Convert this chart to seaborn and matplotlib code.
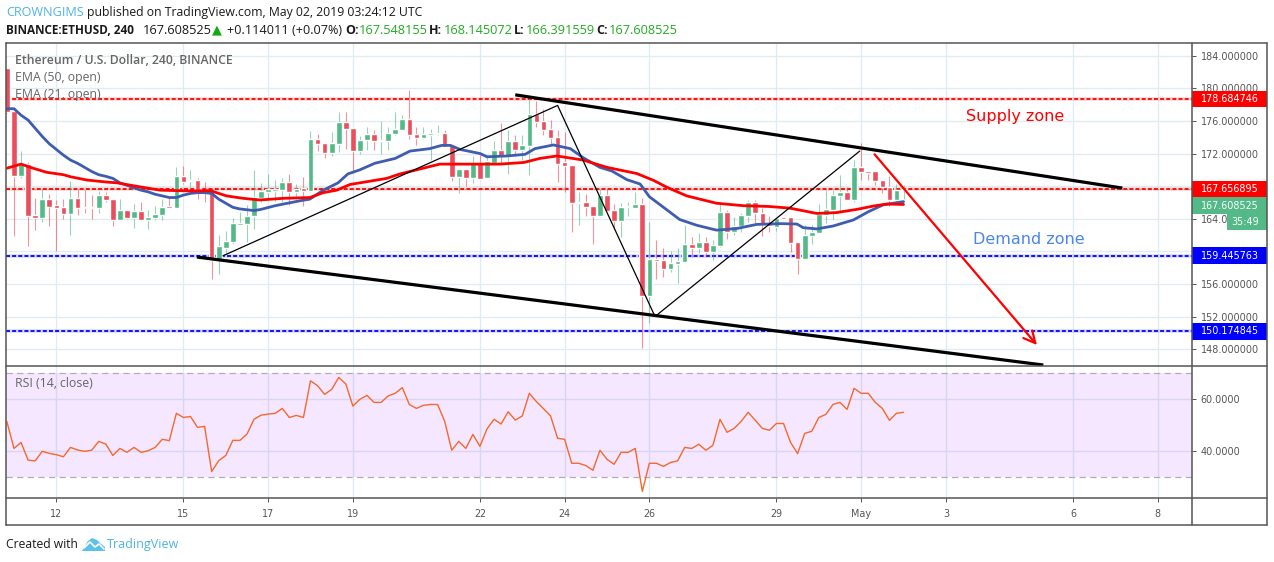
import numpy as np
import pandas as pd
import matplotlib.pyplot as plt
from matplotlib.lines import Line2D
from matplotlib.patches import Polygon, Rectangle
from matplotlib.transforms import blended_transform_factory
import seaborn as sns

sns.set_theme(style='white')
plt.rcParams['font.family'] = ['Open Sans', 'DejaVu Sans']

W, H = 1274, 562
UP, DOWN = '#53b987', '#eb4d5c'
GRID = '#e1ecf2'
TICK = '#555555'

# open, high, low, close of each 4h bar
candles = pd.DataFrame([
    (182.5, 182.5, 177.0, 177.1), (177.2, 177.3, 161.9, 169.2), (169.2, 172.3, 169.0, 170.7), (170.7, 170.9, 160.6, 164.3),
    (164.5, 166.6, 162.6, 164.1), (164.1, 167.6, 163.6, 166.4), (166.4, 167.0, 163.1, 165.4), (165.7, 166.3, 160.0, 165.3),
    (165.4, 166.4, 164.0, 164.6), (164.6, 168.6, 162.0, 166.5), (166.5, 167.6, 164.5, 165.3), (165.4, 167.5, 164.7, 165.3),
    (165.4, 166.9, 164.0, 165.3), (165.3, 167.4, 164.7, 166.9), (166.9, 167.3, 166.1, 166.3), (166.4, 166.4, 163.1, 163.8),
    (163.8, 166.4, 163.8, 165.1), (165.1, 165.1, 164.0, 164.1), (164.1, 165.8, 162.9, 165.0), (165.0, 166.0, 163.8, 163.8),
    (163.8, 165.1, 162.8, 164.2), (164.1, 165.5, 163.9, 164.6), (164.5, 166.4, 163.8, 165.4), (165.6, 166.7, 165.3, 165.3),
    (165.3, 170.4, 165.3, 169.2), (169.2, 170.5, 168.3, 168.5), (168.6, 170.0, 167.6, 168.7), (168.7, 169.0, 166.4, 167.3),
    (167.4, 168.5, 166.1, 167.3), (167.4, 167.5, 156.6, 158.9), (158.9, 162.0, 157.2, 160.7), (160.4, 162.5, 159.7, 161.3),
    (161.1, 164.1, 160.9, 163.5), (163.2, 164.8, 163.2, 163.5), (163.4, 165.7, 161.1, 164.3), (164.3, 170.0, 162.8, 166.7),
    (166.5, 168.4, 166.0, 167.4), (167.3, 169.5, 166.3, 167.6), (167.4, 168.8, 166.2, 167.6), (167.5, 169.0, 166.1, 168.5),
    (168.5, 169.5, 165.7, 167.3), (167.3, 168.3, 166.4, 167.6), (167.8, 169.1, 165.6, 167.4), (167.4, 174.8, 167.3, 173.8),
    (173.8, 174.4, 172.3, 173.2), (173.3, 173.4, 171.5, 172.1), (172.1, 174.6, 171.7, 173.3), (173.2, 177.1, 172.2, 175.9),
    (175.9, 177.1, 172.5, 175.0), (175.1, 175.1, 169.6, 172.3), (172.3, 174.1, 171.9, 173.7), (173.7, 175.2, 172.4, 174.4),
    (174.4, 174.9, 172.4, 173.5), (173.5, 176.0, 171.9, 173.7), (173.5, 175.3, 172.4, 174.5), (174.4, 177.1, 174.3, 175.0),
    (174.9, 176.7, 174.9, 176.2), (176.2, 179.8, 173.8, 174.3), (174.4, 175.3, 173.0, 173.9), (173.9, 175.3, 173.8, 174.4),
    (174.3, 175.0, 171.2, 174.5), (174.4, 175.5, 174.3, 174.5), (174.5, 174.9, 172.8, 172.8), (173.0, 173.0, 168.6, 169.1),
    (169.1, 170.1, 167.2, 170.1), (170.1, 170.1, 168.0, 169.0), (169.0, 171.7, 168.4, 170.8), (170.8, 171.8, 168.9, 168.9),
    (169.0, 171.8, 169.0, 171.1), (170.8, 173.5, 170.7, 172.4), (172.4, 175.8, 170.7, 171.7), (171.7, 174.9, 169.5, 173.5),
    (173.5, 174.3, 171.7, 172.4), (172.4, 174.3, 171.2, 173.0), (172.9, 179.1, 169.4, 176.85), (176.85, 178.5, 175.3, 175.9),
    (176.0, 177.5, 174.3, 174.9), (175.0, 176.1, 173.0, 173.9), (174.0, 174.9, 168.5, 170.7), (170.96, 174.7, 167.3, 170.5),
    (170.6, 170.6, 162.4, 165.9), (165.9, 167.3, 163.2, 166.05), (166.05, 167.0, 164.3, 165.4), (165.6, 165.6, 160.9, 164.3),
    (164.3, 167.6, 164.2, 166.9), (166.9, 167.6, 164.9, 164.95), (165.07, 165.8, 162.8, 163.7), (163.7, 165.9, 161.8, 165.4),
    (165.4, 166.0, 164.3, 165.5), (165.3, 167.3, 165.3, 165.8), (165.8, 166.6, 148.1, 154.5), (154.5, 163.6, 151.2, 159.05),
    (159.05, 161.4, 156.6, 158.8), (158.9, 160.4, 156.9, 157.8), (157.8, 160.0, 157.5, 158.55), (158.45, 160.4, 156.1, 158.8),
    (158.7, 163.2, 158.7, 160.9), (160.9, 161.8, 159.3, 160.4), (160.4, 162.2, 159.75, 161.1), (161.1, 161.8, 159.3, 159.9),
    (159.9, 161.4, 158.9, 160.8), (160.65, 166.0, 160.5, 164.8), (164.8, 165.1, 161.55, 162.4), (162.4, 164.25, 162.0, 163.1),
    (163.1, 164.65, 162.4, 164.45), (164.3, 166.3, 163.6, 166.05), (166.05, 166.3, 163.35, 164.7), (164.7, 165.3, 161.9, 163.35),
    (163.4, 164.3, 162.4, 163.1), (163.0, 164.1, 162.5, 164.1), (164.2, 164.2, 164.0, 164.0), (164.2, 164.2, 159.9, 161.0),
    (161.1, 161.1, 157.2, 159.05), (159.05, 163.2, 159.05, 162.0), (161.9, 163.2, 160.9, 162.4), (162.25, 165.8, 162.2, 164.6),
    (164.45, 167.5, 163.5, 165.2), (165.1, 167.5, 164.0, 166.9), (166.8, 169.4, 164.85, 167.3), (167.3, 167.85, 166.3, 166.3),
    (166.3, 171.2, 166.05, 170.35), (170.35, 173.3, 168.75, 169.75), (169.85, 169.85, 168.7, 169.6), (169.85, 169.85, 168.1, 168.6),
    (168.75, 168.75, 167.2, 167.85), (167.95, 169.2, 165.5, 166.3), (166.3, 168.25, 166.05, 167.5), (167.548155, 168.145072, 166.391559, 167.608525),
], columns=['open', 'high', 'low', 'close'])
candles['bar'] = candles.index

# EMA curves, (bar, price) at the visible bends
ema_blue = [
    (0, 177.5), (1, 177.5), (2, 176.7), (3, 176.1), (4, 175.1), (5, 174.1), (6, 173.2), (7, 172.5), (8, 171.8), (9, 171.2),
    (10, 170.8), (11, 170.3), (12, 169.8), (13, 169.4), (14, 169.2), (15, 168.95), (16, 168.4), (17, 168.1), (18, 167.8),
    (19, 167.5), (20, 167.3), (21, 167.0), (22, 166.8), (23, 166.6), (24, 166.6), (25, 166.9), (26, 167.1), (27, 167.2),
    (28, 167.2), (29, 167.1), (30, 166.4), (31, 165.9), (32, 165.4), (33, 165.2), (34, 165.1), (35, 165.0), (36, 165.15),
    (38, 165.6), (41.5, 166.2), (42.9, 166.4), (44.8, 167.5), (46.9, 168.4), (48.3, 169.5), (50, 170.0), (52.1, 170.8),
    (55, 171.4), (57.1, 172.3), (59.9, 172.6), (61.6, 173.0), (62.8, 173.0), (64.2, 172.5), (67, 172.0), (68, 171.6),
    (70.8, 171.7), (73.4, 171.9), (74.8, 172.6), (77.4, 173.05), (79.8, 172.6), (81.6, 171.5), (84, 170.3), (85.7, 169.85),
    (87.8, 168.8), (89.7, 168.25), (91, 166.7), (93, 165.4), (95.3, 163.9), (97.7, 163.2), (100.5, 162.6), (103.4, 162.8),
    (106.2, 163.3), (109.5, 163.4), (111.9, 163.35), (112.8, 162.9), (114.7, 162.75), (117, 163.1), (119.9, 163.85),
    (122, 164.85), (124.1, 165.7), (127, 166.1),
]
ema_red = [
    (0, 170.2), (2, 170.7), (3.7, 170.2), (5.6, 169.7), (8, 169.4), (9, 169.15), (11.3, 168.75), (14.1, 168.5), (15.6, 168.4),
    (18.9, 167.9), (21.7, 167.5), (26.4, 167.4), (28.8, 167.45), (31.1, 166.8), (33.5, 166.5), (35.8, 166.3), (39.1, 166.5),
    (42.9, 166.6), (44.8, 167.2), (46.7, 167.5), (48.6, 168.2), (53.8, 168.95), (55.7, 169.5), (58.5, 170.1), (61.3, 170.7),
    (66.5, 170.7), (69.8, 170.7), (73.2, 170.9), (75.5, 171.4), (77.9, 171.7), (81.6, 171.2), (85, 170.3), (89.2, 169.55),
    (91.6, 168.7), (93.5, 167.85), (96.3, 166.8), (100.5, 165.9), (104.3, 165.6), (108, 165.5), (110.9, 165.3), (114.7, 164.65),
    (117.5, 164.75), (120.4, 165.15), (122.7, 165.55), (124.6, 165.8), (127, 165.75),
]

rsi = [
    51.4, 41.1, 43.4, 36.6, 36.3, 40.0, 39.2, 38.7, 37.9, 41.5, 40.5, 40.0, 40.4, 43.8, 42.8, 38.4,
    41.1, 39.6, 41.5, 39.6, 40.2, 41.5, 44.6, 44.1, 54.6, 53.0, 53.4, 49.2, 49.6, 32.2, 36.4, 38.4,
    44.2, 44.2, 46.6, 52.3, 53.9, 54.3, 54.6, 56.5, 53.0, 53.8, 53.0, 67.1, 65.2, 61.9, 63.8, 68.4,
    65.9, 57.4, 60.0, 61.5, 58.8, 58.8, 61.3, 62.3, 64.5, 58.0, 56.5, 57.7, 58.0, 58.0, 51.6, 40.4,
    43.8, 41.1, 46.5, 41.9, 48.6, 52.3, 50.5, 55.2, 52.0, 53.6, 62.3, 59.1, 56.4, 53.6, 45.0, 44.6,
    35.4, 35.4, 34.5, 32.7, 40.4, 36.9, 35.0, 39.6, 39.6, 41.1, 24.6, 35.4, 35.4, 34.2, 35.7, 36.3,
    41.5, 41.1, 42.7, 40.4, 42.3, 52.3, 47.3, 48.8, 51.5, 55.0, 51.9, 48.8, 48.1, 50.7, 50.7, 43.4,
    39.1, 46.9, 47.7, 53.0, 54.2, 58.0, 58.8, 56.1, 64.2, 62.3, 62.3, 58.8, 56.5, 51.9, 54.6, 55.0,
]

# hand-drawn annotations, in bar / price
channel_upper = [(72, 179.2), (158, 167.76)]
channel_lower = [(26.9, 159.3), (146.8, 146.05)]
zigzag = [(30.6, 159.45), (78, 177.9), (91.8, 152.0), (120.8, 172.3)]

x_ticks = [7, 25, 37, 49, 67, 79, 91, 109, 121, 133, 151, 163]
x_labels = ['12', '15', '17', '19', '22', '24', '26', '29', 'May', '3', '6', '8']

# levels: price, colour; tags: label, y centre in price, colour
levels = [(178.684746, '#ff0000'), (167.656895, '#ff0000'), (159.445763, '#0000ff'), (150.174845, '#0000ff')]
tags = [
    ('178.684746', 178.684746, '#ff0000'),
    ('167.656895', 167.656895, '#ff0000'),
    ('167.608525', 165.6, UP),
    ('159.445763', 159.445763, '#0000ff'),
    ('150.174845', 150.174845, '#0000ff'),
]


def box(left, top, right, bottom):
    # pixel box from the top-left corner -> figure fractions
    return [left / W, 1 - bottom / H, (right - left) / W, (bottom - top) / H]


def fig_text(fig, x, y, s, **kw):
    kw.setdefault('va', 'center')
    return fig.text(x / W, 1 - y / H, s, **kw)


def fig_line(fig, x0, y0, x1, y1):
    fig.add_artist(Line2D([x0 / W, x1 / W], [1 - y0 / H, 1 - y1 / H], color='#555555', lw=1.1, zorder=10))


def draw_candles(ax, df):
    up = df['close'] >= df['open']
    wick_col = np.where(up, UP, DOWN)
    ax.vlines(df['bar'], df['low'], df['high'], colors=list(wick_col), lw=0.8, alpha=0.6, zorder=3)
    ax.bar(df['bar'], (df['close'] - df['open']).abs().clip(lower=0.12), bottom=df[['open', 'close']].min(axis=1),
           width=0.8, color=list(wick_col), zorder=3.2)


fig = plt.figure(figsize=(W / 100, H / 100), dpi=100)
ax = fig.add_axes(box(6.5, 43, 1192, 366))
ax_rsi = fig.add_axes(box(6.5, 366, 1192, 498), sharex=ax)

ax.set_xlim(-0.06, 167.86)
ax.set_ylim(145.93, 185.56)
ax_rsi.set_ylim(22.04, 72.8)

price_ticks = np.arange(148, 185, 4)
ax.yaxis.tick_right()
ax.set_yticks(price_ticks)
ax.set_yticklabels(['%.6f' % p for p in price_ticks], family='DejaVu Sans', fontsize=6.9, color=TICK)
ax.tick_params(axis='y', right=True, length=3, width=0.7, color=TICK, pad=3.2)
ax.tick_params(axis='x', bottom=False, labelbottom=False)
ax_rsi.yaxis.tick_right()
ax_rsi.set_yticks([40, 60])
ax_rsi.set_yticklabels(['40.0000', '60.0000'], family='DejaVu Sans', fontsize=6.9, color=TICK)
ax_rsi.tick_params(axis='y', right=True, length=3, width=0.7, color=TICK, pad=3.2)
ax_rsi.set_xticks(x_ticks)
ax_rsi.set_xticklabels(x_labels, family='DejaVu Sans', fontsize=6.9, color=TICK)
ax_rsi.tick_params(axis='x', bottom=True, length=3, width=0.7, color=TICK, pad=5.2)

for a in (ax, ax_rsi):
    a.grid(True, color=GRID, lw=1.0)
    a.set_axisbelow(True)
    a.set_xlabel('')
    a.set_ylabel('')
    for spine in a.spines.values():
        spine.set_visible(False)

for price, col in levels:
    ax.axhline(price, color=col, lw=2.6, alpha=0.15, zorder=1)
    ax.axhline(price, color=col, lw=1.3, dashes=(2.2, 1.2), zorder=1.1)
ax.axhline(167.608525, color=UP, lw=0.7, ls=':', zorder=1)

draw_candles(ax, candles)

blue_df = pd.DataFrame(ema_blue, columns=['bar', 'price'])
red_df = pd.DataFrame(ema_red, columns=['bar', 'price'])
sns.lineplot(data=blue_df, x='bar', y='price', ax=ax, color='#3f5db0', lw=2.0, zorder=4, errorbar=None)
sns.lineplot(data=red_df, x='bar', y='price', ax=ax, color='#ff0000', lw=2.0, zorder=4.1, errorbar=None)
ax.set_xlabel('')
ax.set_ylabel('')

for pts in (channel_upper, channel_lower):
    px, py = zip(*pts)
    ax.plot(px, py, color='black', lw=2.3, zorder=5, solid_capstyle='butt')
px, py = zip(*zigzag)
ax.plot(px, py, color='black', lw=0.9, zorder=5)
ax.annotate('', xy=(145.9, 148.5), xytext=(122.9, 171.9),
            arrowprops=dict(arrowstyle='->,head_length=0.7,head_width=0.35', color='#ff0000', lw=1.6,
                            shrinkA=0, shrinkB=0), zorder=6)

ax.text(135.8, 176.6, 'Supply zone', color='#ff0000', fontsize=11.5, family='DejaVu Sans', va='center', zorder=6)
ax.text(136.9, 161.5, 'Demand zone', color='#4a86e8', fontsize=11.5, family='DejaVu Sans', va='center', zorder=6)

# price tags sit on the scale strip
trans = blended_transform_factory(ax.transAxes, ax.transData)
tag_right = (1267 - 6.5) / (1192 - 6.5)
for label, y, col in tags:
    ax.add_patch(Rectangle((1, y - 1.03), tag_right - 1, 2.06, transform=trans, color=col, clip_on=False, zorder=7, lw=0))
    ax.text(1 + 9 / 1185.5, y, label, transform=trans, color='white', fontsize=6.9, family='DejaVu Sans',
            va='center', zorder=8, clip_on=False)
cd_left = (1227 - 6.5) / (1192 - 6.5)
ax.add_patch(Rectangle((cd_left, 162.6), tag_right - cd_left, 2.06, transform=trans, color=UP, clip_on=False, zorder=7, lw=0))
ax.text(1 + 39.5 / 1185.5, 163.63, '35:49', transform=trans, color='white', fontsize=6.9, family='DejaVu Sans',
        va='center', zorder=8, clip_on=False)

# RSI pane
ax_rsi.axhspan(30, 70, color='#9915ff', alpha=0.1, lw=0, zorder=1)
for lvl in (30, 70):
    ax_rsi.axhline(lvl, color='#b5a8bb', lw=0.9, dashes=(5, 3.5), zorder=1.5)
rsi_df = pd.DataFrame({'bar': np.arange(len(rsi)), 'rsi': rsi})
sns.lineplot(data=rsi_df, x='bar', y='rsi', ax=ax_rsi, color='#f7682c', lw=1.0, zorder=3, errorbar=None)
ax_rsi.set_xlabel('')
ax_rsi.set_ylabel('')

# frame
fig_line(fig, 6.5, 43, 1267, 43)
fig_line(fig, 6.5, 525, 1267, 525)
fig_line(fig, 6.5, 43, 6.5, 525)
fig_line(fig, 1267, 43, 1267, 525)
fig_line(fig, 1192, 43, 1192, 525)
fig_line(fig, 6.5, 366, 1267, 366)
fig_line(fig, 6.5, 498, 1267, 498)

# pane legends
fig_text(fig, 15, 60.5, 'Ethereum / U.S. Dollar, 240, BINANCE', color='#666666', fontsize=8.85, fontweight='semibold')
fig_text(fig, 15, 77.5, 'EMA (50, open)', color='#666666', fontsize=8.85)
fig_text(fig, 15, 94.5, 'EMA (21, open)', color='#666666', fontsize=8.85)
fig_text(fig, 15, 383.5, 'RSI (14, close)', color='#666666', fontsize=8.85)

# header
BK = '#1a1a1a'
GR = '#22ab22'
fig_text(fig, 6, 12.5, 'CROWNGIMS', color='#4db3e6', fontsize=9.1)
fig_text(fig, 87, 12.5, 'published on TradingView.com, May 02, 2019 03:24:12 UTC', color=BK, fontsize=8.85)
fig_text(fig, 6, 30, 'BINANCE:ETHUSD, 240', color=BK, fontsize=8.5, fontweight='bold')
fig_text(fig, 143, 30, '167.608525', color=BK, fontsize=9.2)
fig_text(fig, 212, 30, '\u25b2', color='#11aa11', fontsize=9.3)
fig_text(fig, 227, 30, '+0.114011 (+0.07%)', color=BK, fontsize=9.1)
for x_key, key, x_val, val in [(345, 'O:', 358.5, '167.548155'), (429, 'H:', 443.5, '168.145072'),
                               (514, 'L:', 525.5, '166.391559'), (596, 'C:', 608.5, '167.608525')]:
    fig_text(fig, x_key, 30, key, color=BK, fontsize=9.0, fontweight='bold')
    fig_text(fig, x_val, 30, val, color=GR, fontsize=9.2)

# footer
fig_text(fig, 6, 544.5, 'Created with', color=BK, fontsize=8.7)
logo = [(82, 551), (88, 541), (92, 538), (97, 540), (100, 543), (105, 547), (105, 551)]
fig.add_artist(Polygon([(x / W, 1 - y / H) for x, y in logo], closed=True, color='#5cc1ea', lw=0, transform=fig.transFigure))
fig.add_artist(Line2D([84 / W, 90 / W, 95 / W, 99 / W, 104 / W], [1 - 548 / H, 1 - 542 / H, 1 - 547 / H, 1 - 544 / H, 1 - 549 / H],
                      color='white', lw=1.2))
fig_text(fig, 106.5, 544.5, 'TradingView', color='#4db3e6', fontsize=9.0)

fig.savefig('out.png', dpi=100)
